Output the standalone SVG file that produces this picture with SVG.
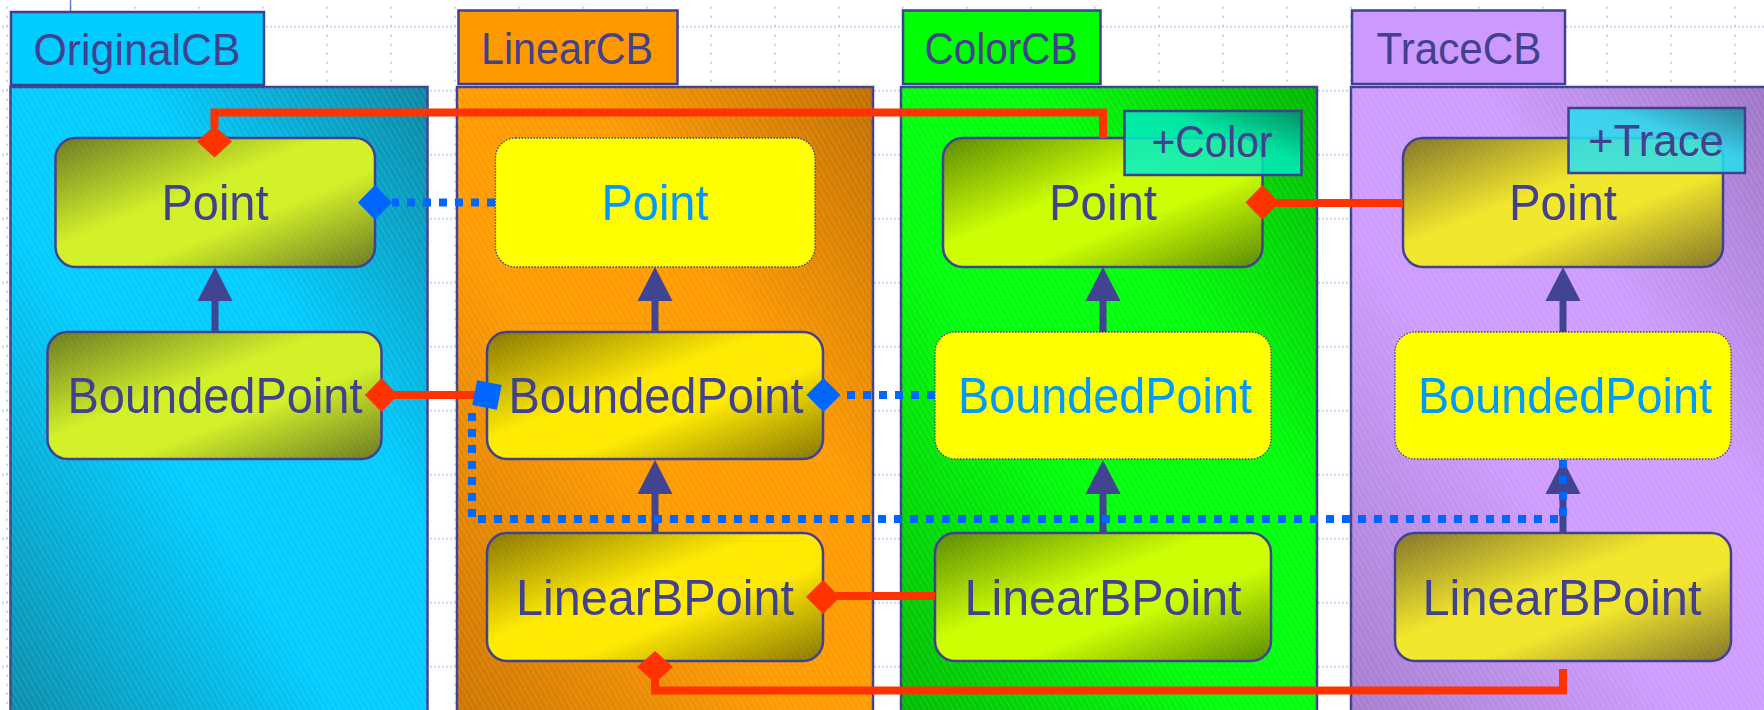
<svg xmlns="http://www.w3.org/2000/svg" width="1764" height="710" viewBox="0 0 1764 710">
  <style>
    .frame { stroke: #404090; stroke-width: 2.5; }
    .tabtxt { font-family: "Liberation Sans", Arial, sans-serif; font-size: 45px; fill: #41418E; text-anchor: middle; }
    .ntxt { font-family: "Liberation Sans", Arial, sans-serif; font-size: 50px; fill: #41418E; text-anchor: middle; }
    .ntxt.virt { fill: #0099FF; }
    .tagtxt { font-family: "Liberation Sans", Arial, sans-serif; font-size: 44px; fill: #41418E; text-anchor: middle; }
    .node { stroke: #404090; stroke-width: 2.5; }
    .virtual { fill: #FFFF00; stroke: #404090; stroke-width: 1.3; stroke-dasharray: 1.5 1.5; }
    .tag { stroke: #404090; stroke-width: 2.5; fill-opacity: 0.85; }
    .hatch { fill: url(#hatch); opacity: 0.16; }
    .hatch-n { fill: url(#hatch); opacity: 0.07; }
    .inh { stroke: #414490; stroke-width: 7; fill: none; }
    .inh-head { fill: #414490; }
    .comp { stroke: #FF3300; stroke-width: 8; fill: none; }
    .comp-d { fill: #FF3300; }
    .dep { stroke: #0066FF; stroke-width: 8; stroke-dasharray: 8 8; fill: none; }
    .dep-d { fill: #0066FF; }
  </style>
  <defs>
    <pattern id="grid" x="6" y="25.7" width="64" height="64" patternUnits="userSpaceOnUse">
      <line x1="0" y1="1" x2="64" y2="1" stroke="#C6D3F3" stroke-width="2" stroke-dasharray="2 2"/>
      <line x1="1" y1="0" x2="1" y2="64" stroke="#C6D3F3" stroke-width="2" stroke-dasharray="2 7"/>
    </pattern>
    <pattern id="hatch" width="5" height="10" patternUnits="userSpaceOnUse" patternTransform="rotate(-30)">
      <line x1="1" y1="0" x2="1" y2="10" stroke="#FFFFFF" stroke-width="1"/>
    </pattern>
    <!-- panel body shading: dark corners top-right and bottom-left -->
    <linearGradient id="pg1" x1="1" y1="0" x2="0" y2="1">
      <stop offset="0" stop-color="#0A86A2"/><stop offset="0.35" stop-color="#00CCFF"/>
      <stop offset="0.6" stop-color="#00CCFF"/><stop offset="1" stop-color="#0A8CAA"/>
    </linearGradient>
    <linearGradient id="pg2" x1="1" y1="0" x2="0" y2="1">
      <stop offset="0" stop-color="#C06E00"/><stop offset="0.35" stop-color="#FF9A00"/>
      <stop offset="0.6" stop-color="#FF9A00"/><stop offset="1" stop-color="#CC7400"/>
    </linearGradient>
    <linearGradient id="pg3" x1="1" y1="0" x2="0" y2="1">
      <stop offset="0" stop-color="#00B400"/><stop offset="0.35" stop-color="#00FF0A"/>
      <stop offset="0.6" stop-color="#00FF0A"/><stop offset="1" stop-color="#00BA00"/>
    </linearGradient>
    <linearGradient id="pg4" x1="1" y1="0" x2="0" y2="1">
      <stop offset="0" stop-color="#9C74C4"/><stop offset="0.35" stop-color="#CE9CFF"/>
      <stop offset="0.6" stop-color="#CE9CFF"/><stop offset="1" stop-color="#A47CCC"/>
    </linearGradient>
    <!-- class box shading: dark top-left and bottom-right -->
    <linearGradient id="ng1" x1="0" y1="0" x2="1" y2="1">
      <stop offset="0" stop-color="#6A7A22"/><stop offset="0.42" stop-color="#D2F026"/>
      <stop offset="0.62" stop-color="#D2F026"/><stop offset="1" stop-color="#6A7A22"/>
    </linearGradient>
    <linearGradient id="ng2" x1="0" y1="0" x2="1" y2="1">
      <stop offset="0" stop-color="#887600"/><stop offset="0.42" stop-color="#FFEA00"/>
      <stop offset="0.62" stop-color="#FFEA00"/><stop offset="1" stop-color="#887600"/>
    </linearGradient>
    <linearGradient id="ng3" x1="0" y1="0" x2="1" y2="1">
      <stop offset="0" stop-color="#5A8A00"/><stop offset="0.42" stop-color="#CCFF00"/>
      <stop offset="0.62" stop-color="#CCFF00"/><stop offset="1" stop-color="#5A8A00"/>
    </linearGradient>
    <linearGradient id="ng4" x1="0" y1="0" x2="1" y2="1">
      <stop offset="0" stop-color="#837528"/><stop offset="0.42" stop-color="#F2E62A"/>
      <stop offset="0.62" stop-color="#F2E62A"/><stop offset="1" stop-color="#837528"/>
    </linearGradient>
    <linearGradient id="tgColor" x1="1" y1="0" x2="0" y2="1">
      <stop offset="0" stop-color="#008A72"/><stop offset="0.4" stop-color="#00E8BC"/>
      <stop offset="1" stop-color="#00F2CC"/>
    </linearGradient>
    <linearGradient id="tgTrace" x1="1" y1="0" x2="0" y2="1">
      <stop offset="0" stop-color="#1C8494"/><stop offset="0.4" stop-color="#26DCEE"/>
      <stop offset="1" stop-color="#2AE2F2"/>
    </linearGradient>
  </defs>

  <!-- background grid -->
  <rect width="1764" height="710" fill="#FFFFFF"/>
  <rect width="1764" height="710" fill="url(#grid)"/>
  <line x1="70.5" y1="0" x2="70.5" y2="12" stroke="#6878E0" stroke-width="1.5"/>

  <!-- packages -->
  <g id="pkg-original">
    <rect class="frame" x="10.5" y="87" width="417" height="630" fill="url(#pg1)"/>
    <rect class="hatch" x="10.5" y="87" width="417" height="630"/>
    <rect class="frame" x="11" y="12" width="253" height="73" fill="#00CCFF"/>
    <text class="tabtxt" x="137" y="65" textLength="207" lengthAdjust="spacingAndGlyphs">OriginalCB</text>
  </g>
  <g id="pkg-linear">
    <rect class="frame" x="457" y="87" width="416" height="630" fill="url(#pg2)"/>
    <rect class="hatch" x="457" y="87" width="416" height="630"/>
    <rect class="frame" x="458.5" y="10.5" width="219" height="73.5" fill="#FF9900"/>
    <text class="tabtxt" x="567" y="64" textLength="172" lengthAdjust="spacingAndGlyphs">LinearCB</text>
  </g>
  <g id="pkg-color">
    <rect class="frame" x="901" y="87" width="416" height="630" fill="url(#pg3)"/>
    <rect class="hatch" x="901" y="87" width="416" height="630"/>
    <rect class="frame" x="903" y="10.5" width="197.5" height="73.5" fill="#00FF00"/>
    <text class="tabtxt" x="1001" y="63.5" textLength="153" lengthAdjust="spacingAndGlyphs">ColorCB</text>
  </g>
  <g id="pkg-trace">
    <rect class="frame" x="1351" y="87" width="420" height="630" fill="url(#pg4)"/>
    <rect class="hatch" x="1351" y="87" width="420" height="630"/>
    <rect class="frame" x="1352" y="10.5" width="213" height="73.5" fill="#CC99FF"/>
    <text class="tabtxt" x="1459" y="63.5" textLength="165" lengthAdjust="spacingAndGlyphs">TraceCB</text>
  </g>

  <!-- classes -->
  <g id="original-point">
    <rect class="node" x="55.5" y="138" width="319.5" height="129" rx="20" fill="url(#ng1)"/>
    <rect class="hatch-n" x="55.5" y="138" width="319.5" height="129" rx="20"/>
    <text class="ntxt" x="215" y="220" textLength="107" lengthAdjust="spacingAndGlyphs">Point</text>
  </g>
  <g id="original-boundedpoint">
    <rect class="node" x="47.5" y="332" width="334" height="127" rx="20" fill="url(#ng1)"/>
    <rect class="hatch-n" x="47.5" y="332" width="334" height="127" rx="20"/>
    <text class="ntxt" x="215" y="413" textLength="295" lengthAdjust="spacingAndGlyphs">BoundedPoint</text>
  </g>

  <g id="linear-point">
    <rect class="virtual" x="495.5" y="138" width="319.5" height="129" rx="20"/>
    <text class="ntxt virt" x="655" y="220" textLength="107" lengthAdjust="spacingAndGlyphs">Point</text>
  </g>
  <g id="linear-boundedpoint">
    <rect class="node" x="487" y="332" width="336" height="127" rx="20" fill="url(#ng2)"/>
    <rect class="hatch-n" x="487" y="332" width="336" height="127" rx="20"/>
    <text class="ntxt" x="656" y="413" textLength="295" lengthAdjust="spacingAndGlyphs">BoundedPoint</text>
  </g>
  <g id="linear-linearbpoint">
    <rect class="node" x="487" y="533" width="336" height="128" rx="20" fill="url(#ng2)"/>
    <rect class="hatch-n" x="487" y="533" width="336" height="128" rx="20"/>
    <text class="ntxt" x="655" y="615" textLength="278" lengthAdjust="spacingAndGlyphs">LinearBPoint</text>
  </g>

  <g id="color-point">
    <rect class="node" x="943" y="138" width="319.5" height="129" rx="20" fill="url(#ng3)"/>
    <rect class="hatch-n" x="943" y="138" width="319.5" height="129" rx="20"/>
    <text class="ntxt" x="1103" y="220" textLength="108" lengthAdjust="spacingAndGlyphs">Point</text>
    <rect class="tag" x="1124.5" y="111" width="177" height="64" fill="url(#tgColor)"/>
    <text class="tagtxt" x="1212" y="157" textLength="121" lengthAdjust="spacingAndGlyphs">+Color</text>
  </g>
  <g id="color-boundedpoint">
    <rect class="virtual" x="935" y="332" width="336" height="127" rx="20"/>
    <text class="ntxt virt" x="1105" y="413" textLength="294" lengthAdjust="spacingAndGlyphs">BoundedPoint</text>
  </g>
  <g id="color-linearbpoint">
    <rect class="node" x="935" y="533" width="336" height="128" rx="20" fill="url(#ng3)"/>
    <rect class="hatch-n" x="935" y="533" width="336" height="128" rx="20"/>
    <text class="ntxt" x="1103" y="615" textLength="277" lengthAdjust="spacingAndGlyphs">LinearBPoint</text>
  </g>

  <g id="trace-point">
    <rect class="node" x="1403" y="138" width="320" height="129" rx="20" fill="url(#ng4)"/>
    <rect class="hatch-n" x="1403" y="138" width="320" height="129" rx="20"/>
    <text class="ntxt" x="1563" y="220" textLength="108" lengthAdjust="spacingAndGlyphs">Point</text>
    <rect class="tag" x="1568.5" y="108" width="176.5" height="65" fill="url(#tgTrace)"/>
    <text class="tagtxt" x="1656" y="156" textLength="136" lengthAdjust="spacingAndGlyphs">+Trace</text>
  </g>
  <g id="trace-boundedpoint">
    <rect class="virtual" x="1395" y="332" width="336" height="127" rx="20"/>
    <text class="ntxt virt" x="1565" y="413" textLength="294" lengthAdjust="spacingAndGlyphs">BoundedPoint</text>
  </g>
  <g id="trace-linearbpoint">
    <rect class="node" x="1395" y="533" width="336" height="128" rx="20" fill="url(#ng4)"/>
    <rect class="hatch-n" x="1395" y="533" width="336" height="128" rx="20"/>
    <text class="ntxt" x="1562" y="615" textLength="279" lengthAdjust="spacingAndGlyphs">LinearBPoint</text>
  </g>

  <!-- connectors -->
  <g id="connectors">
    <!-- inheritance -->
    <line class="inh" x1="215" y1="332" x2="215" y2="299"/>
    <polygon class="inh-head" points="215,267 197.5,301 232.5,301"/>
    <line class="inh" x1="655" y1="332" x2="655" y2="299"/>
    <polygon class="inh-head" points="655,267 637.5,301 672.5,301"/>
    <line class="inh" x1="655" y1="533" x2="655" y2="492"/>
    <polygon class="inh-head" points="655,460 637.5,494 672.5,494"/>
    <line class="inh" x1="1103" y1="332" x2="1103" y2="299"/>
    <polygon class="inh-head" points="1103,267 1085.5,301 1120.5,301"/>
    <line class="inh" x1="1103" y1="533" x2="1103" y2="492"/>
    <polygon class="inh-head" points="1103,460 1085.5,494 1120.5,494"/>
    <line class="inh" x1="1563" y1="332" x2="1563" y2="299"/>
    <polygon class="inh-head" points="1563,267 1545.5,301 1580.5,301"/>
    <line class="inh" x1="1563" y1="533" x2="1563" y2="492"/>
    <polygon class="inh-head" points="1563,460 1545.5,494 1580.5,494"/>

    <!-- composition links -->
    <polyline class="comp" points="1103,138 1103,112.5 214.5,112.5 214.5,128"/>
    <polygon class="comp-d" points="214.5,125.5 232,141.5 214.5,157.5 197,141.5"/>
    <line class="comp" x1="1403" y1="203" x2="1275" y2="203"/>
    <polygon class="comp-d" points="1245.5,202.5 1262.5,185 1279.5,202.5 1262.5,220"/>
    <line class="comp" x1="476" y1="395" x2="392" y2="395"/>
    <polygon class="comp-d" points="365,395 381.5,378 398,395 381.5,412"/>
    <line class="comp" x1="935" y1="596" x2="836" y2="596"/>
    <polygon class="comp-d" points="806,597 823,580 840,597 823,614"/>
    <polyline class="comp" points="1563,669 1563,690.5 655,690.5 655,680"/>
    <polygon class="comp-d" points="655,651 673,667 655,683 637,667"/>

    <!-- dependency links -->
    <line class="dep" x1="495" y1="202.5" x2="392" y2="202.5"/>
    <polygon class="dep-d" points="358,202.5 375,185 392,202.5 375,220"/>
    <line class="dep" x1="935" y1="395" x2="839" y2="395"/>
    <polygon class="dep-d" points="806.5,395 823.5,378 840.5,395 823.5,412"/>
    <polyline class="dep" points="472,413 472,519 1563,519 1563,459"/>
    <rect class="dep-d" x="474.5" y="382.5" width="25" height="25" transform="rotate(11 487 395)"/>
  </g>
</svg>
